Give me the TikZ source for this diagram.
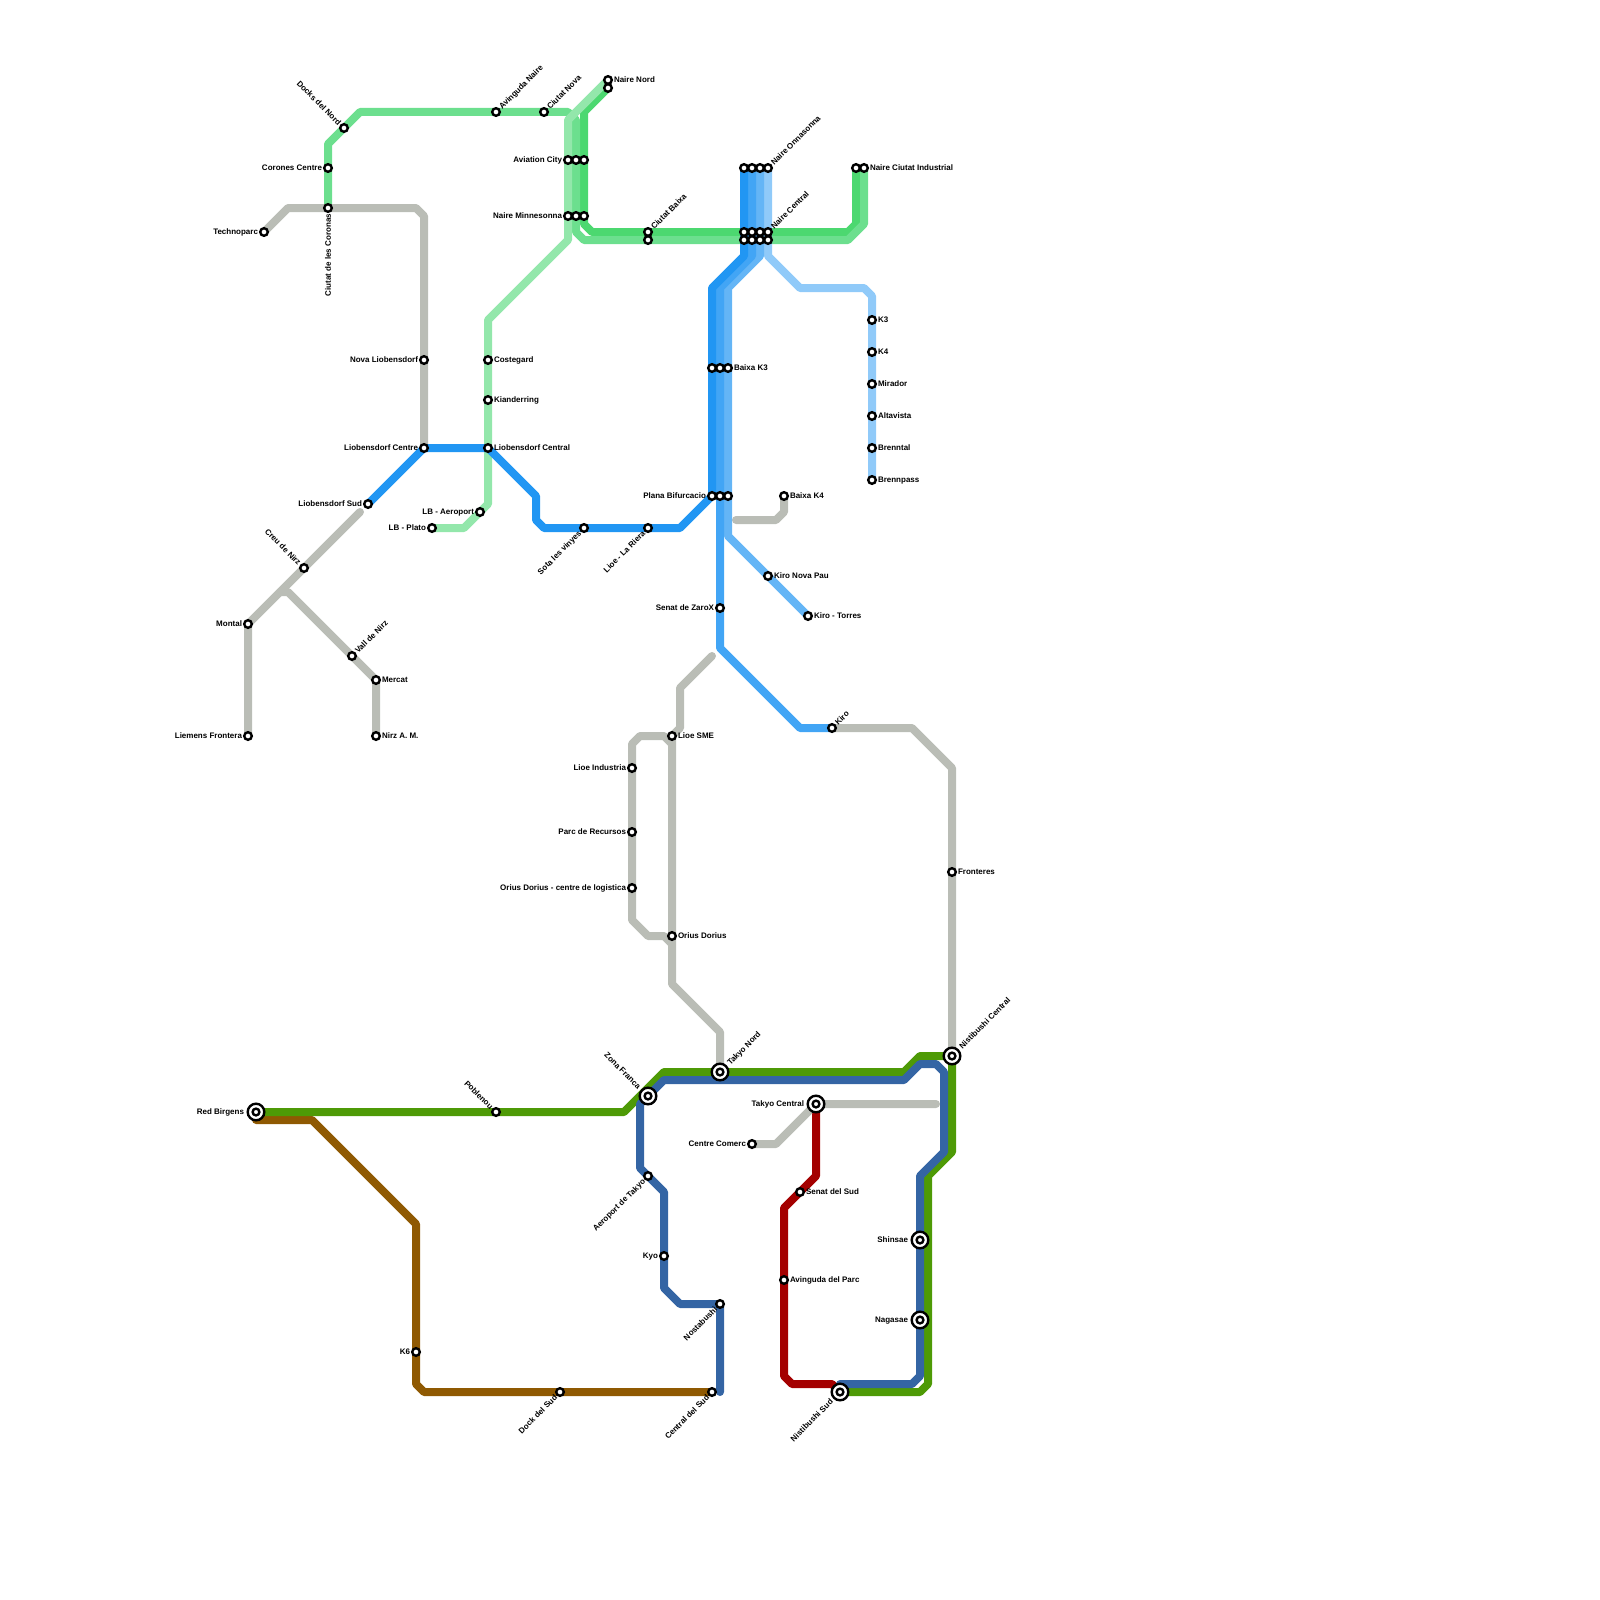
\documentclass[tikz,border=0pt]{standalone}
\usepackage{fontspec}
\setmainfont{Liberation Sans}
\usetikzlibrary{backgrounds}
\definecolor{cgray}{HTML}{BABDB6}
\definecolor{cgrn}{HTML}{4E9A06}
\definecolor{cnavy}{HTML}{3465A4}
\definecolor{cred}{HTML}{A40000}
\definecolor{cbrown}{HTML}{8F5902}
\definecolor{bA}{HTML}{2196F3}
\definecolor{bB}{HTML}{42A5F5}
\definecolor{bC}{HTML}{64B5F6}
\definecolor{bD}{HTML}{90CAF9}
\definecolor{gA}{HTML}{4CD870}
\definecolor{gB}{HTML}{6CDF8E}
\definecolor{gC}{HTML}{93E7AB}
\tikzset{
 x=4pt,y=-4pt,
 route/.style={line width=4pt,line join=round,line cap=round},
 dot/.style={circle,draw=black,fill=white,line width=1.2pt,minimum size=3.8pt,inner sep=0pt,outer sep=0pt},
 hub/.style={circle,draw=black,fill=white,line width=1.2pt,minimum size=8.3pt,inner sep=0pt,outer sep=0pt,
   path picture={\draw[black,line width=1.2pt] (path picture bounding box.center) circle (1.7pt);}},
 lbl/.style={font=\bfseries\fontsize{4}{4}\selectfont,text height=2.85pt,text depth=0pt,inner ysep=0pt,outer sep=0pt,inner xsep=3pt,text=black},
 lR/.style={lbl,anchor=west},
 lL/.style={lbl,anchor=east},
 lUR/.style={lbl,anchor=west,rotate=45},
 lDL/.style={lbl,anchor=east,rotate=45},
 lUL/.style={lbl,anchor=east,rotate=-45},
 lV/.style={lbl,anchor=east,rotate=90},
 far/.style={inner xsep=6pt},
}
\newcommand\sta[3]{\node[dot] (#1) at (#2,#3) {};}
\newcommand\bighub[3]{\node[hub] (#1) at (#2,#3) {};}
\begin{document}
\begin{tikzpicture}
\useasboundingbox (0,0) rectangle (200,200);
% stations
\sta{corones}{41}{21}\sta{coronas}{41}{26}\sta{docks}{43}{16}\sta{avnaire}{62}{14}\sta{cnova}{68}{14}\sta{techno}{33}{29}
\sta{nnordA}{76}{10}\sta{nnordB}{76}{11}
\sta{avA}{71}{20}\sta{avB}{72}{20}\sta{avC}{73}{20}
\sta{minA}{71}{27}\sta{minB}{72}{27}\sta{minC}{73}{27}
\sta{baixaA}{81}{29}\sta{baixaB}{81}{30}
\sta{onnA}{93}{21}\sta{onnB}{94}{21}\sta{onnC}{95}{21}\sta{onnD}{96}{21}
\sta{ncA}{93}{29}\sta{ncB}{94}{29}\sta{ncC}{95}{29}\sta{ncD}{96}{29}
\sta{ncE}{93}{30}\sta{ncF}{94}{30}\sta{ncG}{95}{30}\sta{ncH}{96}{30}
\sta{indA}{107}{21}\sta{indB}{108}{21}
\sta{kA}{89}{46}\sta{kB}{90}{46}\sta{kC}{91}{46}
\sta{plA}{89}{62}\sta{plB}{90}{62}\sta{plC}{91}{62}
\sta{kthree}{109}{40}\sta{kfour}{109}{44}\sta{mirador}{109}{48}\sta{alta}{109}{52}\sta{brenntal}{109}{56}\sta{brennpass}{109}{60}
\sta{costegard}{61}{45}\sta{kian}{61}{50}\sta{lcentral}{61}{56}\sta{lcentre}{53}{56}\sta{novalb}{53}{45}\sta{lsud}{46}{63}
\sta{lbaero}{60}{64}\sta{lbplato}{54}{66}\sta{sota}{73}{66}\sta{riera}{81}{66}
\sta{creu}{38}{71}\sta{montal}{31}{78}\sta{liemens}{31}{92}\sta{vall}{44}{82}\sta{mercat}{47}{85}\sta{nirz}{47}{92}
\sta{baixakfour}{98}{62}\sta{novapau}{96}{72}\sta{torres}{101}{77}\sta{zarox}{90}{76}\sta{kiro}{104}{91}
\sta{lioesme}{84}{92}\sta{lioeind}{79}{96}\sta{parc}{79}{104}\sta{orcentre}{79}{111}\sta{orius}{84}{117}
\sta{front}{119}{109}\sta{poble}{62}{139}\sta{aerotak}{81}{147}\sta{kyo}{83}{157}\sta{nosta}{90}{163}
\sta{centsud}{89}{174}\sta{docksud}{70}{174}\sta{ksix}{52}{169}\sta{comerc}{94}{143}\sta{senat}{100}{149}\sta{avparc}{98}{160}
\bighub{red}{32}{139}\bighub{zona}{81}{137}\bighub{taknord}{90}{134}\bighub{nisc}{119}{132}\bighub{takc}{102}{138}
\bighub{shin}{115}{155}\bighub{naga}{115}{165}\bighub{nisud}{105}{174}
% labels
\node[lR] (t1) at (nnordA) {Naire Nord};
\node[lUR] (t2) at (avnaire) {Avinguda Naire};
\node[lUR] (t3) at (cnova) {Ciutat Nova};
\node[lUL] (t4) at (docks) {Docks del Nord};
\node[lL] (t5) at (corones) {Corones Centre};
\node[lV] (t6) at (coronas) {Ciutat de les Coronas};
\node[lL] (t7) at (techno) {Technoparc};
\node[lL] (t8) at (avA) {Aviation City};
\node[lL] (t9) at (minA) {Naire Minnesonna};
\node[lUR] (t10) at (baixaA) {Ciutat Baixa};
\node[lUR] (t11) at (onnD) {Naire Onnasonna};
\node[lUR] (t12) at (ncD) {Naire Central};
\node[lR] (t13) at (indB) {Naire Ciutat Industrial};
\node[lR] (t14) at (kC) {Baixa K3};
\node[lL] (t15) at (plA) {Plana Bifurcacio};
\node[lR] (t16) at (kthree) {K3};
\node[lR] (t17) at (kfour) {K4};
\node[lR] (t18) at (mirador) {Mirador};
\node[lR] (t19) at (alta) {Altavista};
\node[lR] (t20) at (brenntal) {Brenntal};
\node[lR] (t21) at (brennpass) {Brennpass};
\node[lR] (t22) at (costegard) {Costegard};
\node[lR] (t23) at (kian) {Kianderring};
\node[lR] (t24) at (lcentral) {Liobensdorf Central};
\node[lL] (t25) at (lcentre) {Liobensdorf Centre};
\node[lL] (t26) at (novalb) {Nova Liobensdorf};
\node[lL] (t27) at (lsud) {Liobensdorf Sud};
\node[lL] (t28) at (lbaero) {LB - Aeroport};
\node[lL] (t29) at (lbplato) {LB - Plato};
\node[lDL] (t30) at (sota) {Sota les vinyes};
\node[lDL] (t31) at (riera) {Lioe - La Riera};
\node[lUL] (t32) at (creu) {Creu de Nirz};
\node[lL] (t33) at (montal) {Montal};
\node[lL] (t34) at (liemens) {Liemens Frontera};
\node[lUR] (t35) at (vall) {Vall de Nirz};
\node[lR] (t36) at (mercat) {Mercat};
\node[lR] (t37) at (nirz) {Nirz A. M.};
\node[lR] (t38) at (baixakfour) {Baixa K4};
\node[lR] (t39) at (novapau) {Kiro Nova Pau};
\node[lR] (t40) at (torres) {Kiro - Torres};
\node[lL] (t41) at (zarox) {Senat de ZaroX};
\node[lUR] (t42) at (kiro) {Kiro};
\node[lR] (t43) at (lioesme) {Lioe SME};
\node[lL] (t44) at (lioeind) {Lioe Industria};
\node[lL] (t45) at (parc) {Parc de Recursos};
\node[lL] (t46) at (orcentre) {Orius Dorius - centre de logistica};
\node[lR] (t47) at (orius) {Orius Dorius};
\node[lR] (t48) at (front) {Fronteres};
\node[lUL] (t49) at (poble) {Poblenou};
\node[lDL] (t50) at (aerotak) {Aeroport de Takyo};
\node[lL] (t51) at (kyo) {Kyo};
\node[lDL] (t52) at (nosta) {Nostabushi};
\node[lDL] (t53) at (centsud) {Central del Sud};
\node[lDL] (t54) at (docksud) {Dock del Sud};
\node[lL] (t55) at (ksix) {K6};
\node[lL] (t56) at (comerc) {Centre Comerc};
\node[lR] (t57) at (senat) {Senat del Sud};
\node[lR] (t58) at (avparc) {Avinguda del Parc};
\node[lL,far] (t59) at (red) {Red Birgens};
\node[lUL,far] (t60) at (zona) {Zona Franca};
\node[lUR,far] (t61) at (taknord) {Takyo Nord};
\node[lUR,far] (t62) at (nisc) {Nistibushi Central};
\node[lL,far] (t63) at (takc) {Takyo Central};
\node[lL,far] (t64) at (shin) {Shinsae};
\node[lL,far] (t65) at (naga) {Nagasae};
\node[lDL,far] (t66) at (nisud) {Nistibushi Sud};
% routes
\begin{pgfonlayer}{background}
\draw[route,cbrown] (32,140) -- (39,140) -- (52,153) -- (52,173) -- (53,174) -- (centsud.center);
\draw[route,cred] (takc.center) -- (102,147) -- (98,151) -- (98,172) -- (99,173) -- (104,173) -- (nisud.center);
\draw[route,cgrn] (red.center) -- (78,139) -- (83,134) -- (113,134) -- (115,132) -- (nisc.center) -- (119,144) -- (116,147) -- (116,173) -- (115,174) -- (nisud.center);
\draw[route,cnavy] (nisud.center) -- (105,173) -- (114,173) -- (115,172) -- (115,147) -- (118,144) -- (118,134) -- (117,133) -- (115,133) -- (113,135) -- (83,135) -- (80,138) -- (80,146) -- (83,149) -- (83,161) -- (85,163) -- (nosta.center) -- (90,174);
\draw[route,gA] (nnordB.center) -- (73,14) -- (73,28) -- (74,29) -- (106,29) -- (107,28) -- (indA.center);
\draw[route,gB] (coronas.center) -- (41,18) -- (45,14) -- (71,14) -- (72,15) -- (72,29) -- (73,30) -- (106,30) -- (108,28) -- (indB.center);
\draw[route,gC] (nnordA.center) -- (71,15) -- (71,30) -- (61,40) -- (61,63) -- (58,66) -- (lbplato.center);
\draw[route,cgray] (techno.center) -- (36,26) -- (52,26) -- (53,27) -- (lcentre.center);
\draw[route,cgray] (45,64) -- (montal.center) -- (liemens.center);
\draw[route,cgray] (35,74) -- (36,74) -- (mercat.center) -- (nirz.center);
\draw[route,cgray] (baixakfour.center) -- (98,64) -- (97,65) -- (92,65);
\draw[route,cgray] (89,82) -- (85,86) -- (85,91) -- (lioesme.center) -- (84,123) -- (90,129) -- (taknord.center);
\draw[route,cgray] (84,93) -- (83,92) -- (80,92) -- (79,93) -- (79,115) -- (81,117) -- (83,117) -- (84,118);
\draw[route,cgray] (kiro.center) -- (114,91) -- (119,96) -- (nisc.center);
\draw[route,cgray] (comerc.center) -- (97,143) -- (takc.center) -- (117,138);
\draw[route,bD] (onnD.center) -- (96,32) -- (100,36) -- (108,36) -- (109,37) -- (brennpass.center);
\draw[route,bC] (onnC.center) -- (95,32) -- (91,36) -- (91,67) -- (torres.center);
\draw[route,bB] (onnB.center) -- (94,32) -- (90,36) -- (90,81) -- (100,91) -- (kiro.center);
\draw[route,bA] (onnA.center) -- (93,32) -- (89,36) -- (plA.center) -- (85,66) -- (68,66) -- (67,65) -- (67,62) -- (lcentral.center) -- (lcentre.center) -- (lsud.center);
\end{pgfonlayer}
\end{tikzpicture}
\end{document}
